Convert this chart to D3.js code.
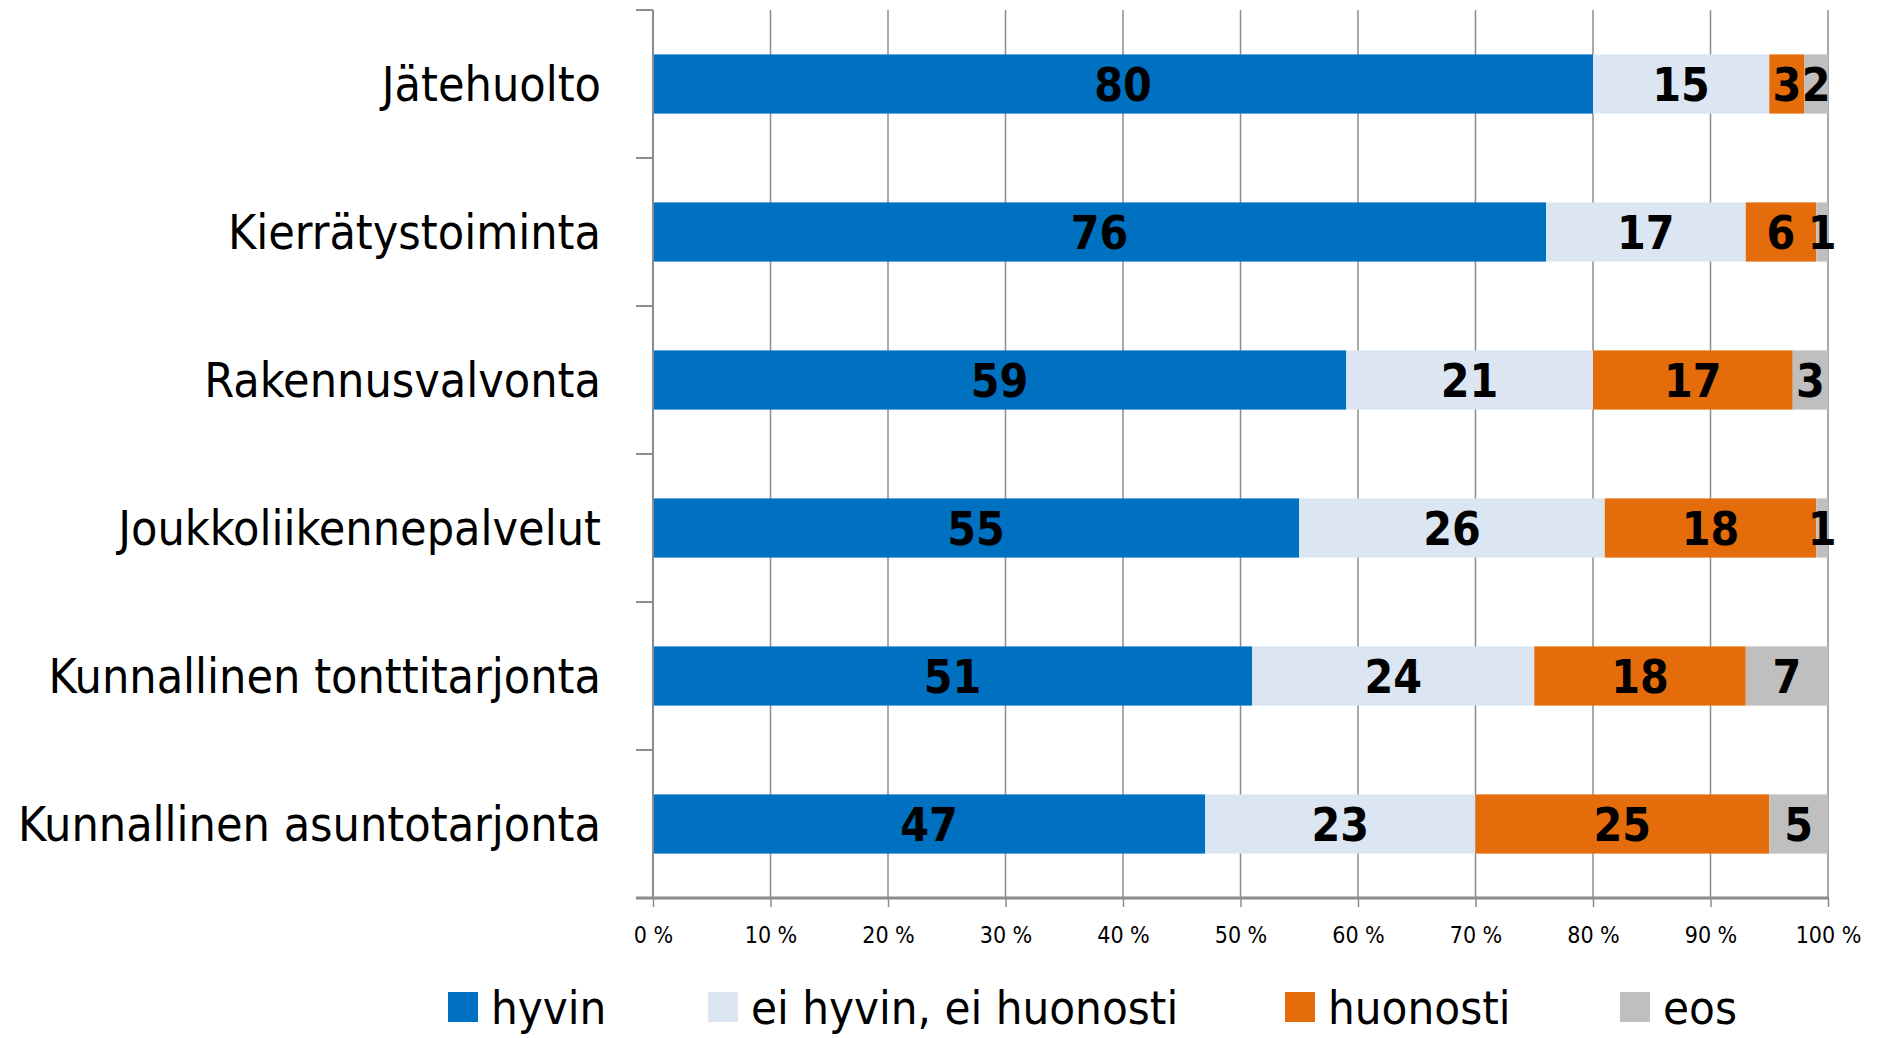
<!DOCTYPE html>
<html>
<head>
<meta charset="utf-8">
<script src="https://cdn.jsdelivr.net/npm/d3@7"></script>
<style>
  body { margin: 0; background: #fff; }
  svg text { font-family: "Liberation Sans Narrow", "DejaVu Sans Condensed", "Open Sans", sans-serif; }
</style>
</head>
<body>
<div id="chart"></div>
<script>
// categories, top to bottom
const categories = [
  "Jätehuolto",
  "Kierrätystoiminta",
  "Rakennusvalvonta",
  "Joukkoliikennepalvelut",
  "Kunnallinen tonttitarjonta",
  "Kunnallinen asuntotarjonta"
];
const seriesNames = ["hyvin", "ei hyvin, ei huonosti", "huonosti", "eos"];
const hyvin     = [80, 76, 59, 55, 51, 47];
const eiHyvin   = [15, 17, 21, 26, 24, 23];
const huonosti  = [3, 6, 17, 18, 18, 25];
const eos       = [2, 1, 3, 1, 7, 5];
const tickValues = [0, 10, 20, 30, 40, 50, 60, 70, 80, 90, 100];
const colors = ["#0070c0", "#dce6f2", "#e46c0a", "#bfbfbf"];

const W = 1879, H = 1038;
const plotLeft = 653, plotRight = 1828, plotTop = 10, plotBottom = 898;

const rows = categories.map((c, i) => ({
  cat: c, hyvin: hyvin[i], ei: eiHyvin[i], huonosti: huonosti[i], eos: eos[i]
}));
const keys = ["hyvin", "ei", "huonosti", "eos"];
const stacked = d3.stack().keys(keys)(rows);

const svg = d3.select("#chart").append("svg")
  .attr("width", W).attr("height", H);

const x = d3.scaleLinear().domain([0, 100]).range([plotLeft, plotRight]);
const y = d3.scaleBand().domain(categories).range([plotTop, plotBottom]).paddingInner(0.6).paddingOuter(0.3);

// gridlines
svg.append("g")
  .selectAll("line")
  .data(tickValues.slice(1))
  .enter().append("line")
  .attr("x1", d => x(d)).attr("x2", d => x(d))
  .attr("y1", plotTop).attr("y2", plotBottom)
  .attr("stroke", "#8c8c8c").attr("stroke-width", 1.5);

// bars
const layer = svg.append("g").selectAll("g")
  .data(stacked)
  .enter().append("g")
  .attr("fill", (d, i) => colors[i]);

layer.selectAll("rect")
  .data(d => d)
  .enter().append("rect")
  .attr("x", d => x(d[0]))
  .attr("width", d => x(d[1]) - x(d[0]))
  .attr("y", d => y(d.data.cat))
  .attr("height", y.bandwidth());

// value labels
layer.selectAll("text")
  .data(d => d)
  .enter().append("text")
  .attr("x", d => (x(d[0]) + x(d[1])) / 2)
  .attr("y", d => y(d.data.cat) + y.bandwidth() / 2)
  .attr("dy", "0.38em")
  .attr("text-anchor", "middle")
  .attr("fill", "#000")
  .style("font-size", "46px")
  .style("font-weight", "bold")
  .text(d => d[1] - d[0]);

// x axis
const xAxis = svg.append("g")
  .attr("transform", "translate(0," + plotBottom + ")")
  .call(d3.axisBottom(x).tickValues(tickValues).tickSize(9).tickPadding(20)
    .tickFormat(d => d + " %"));
xAxis.select(".domain").remove();
xAxis.selectAll(".tick line").attr("stroke", "#8c8c8c").attr("stroke-width", 1.5);
xAxis.selectAll(".tick text").style("font-size", "23px").attr("fill", "#000");
svg.append("line")
  .attr("x1", plotLeft - 17).attr("x2", plotRight + 1)
  .attr("y1", plotBottom).attr("y2", plotBottom)
  .attr("stroke", "#8c8c8c").attr("stroke-width", 3);

// y axis with category boundary ticks
const bounds = d3.range(categories.length + 1)
  .map(i => plotTop + i * (plotBottom - plotTop) / categories.length);
svg.append("line")
  .attr("x1", plotLeft).attr("x2", plotLeft)
  .attr("y1", plotTop).attr("y2", plotBottom)
  .attr("stroke", "#8c8c8c").attr("stroke-width", 2);
svg.append("g").selectAll("line")
  .data(bounds)
  .enter().append("line")
  .attr("x1", plotLeft - 17).attr("x2", plotLeft)
  .attr("y1", d => d).attr("y2", d => d)
  .attr("stroke", "#8c8c8c").attr("stroke-width", 2);

// category labels
svg.append("g").selectAll("text")
  .data(categories)
  .enter().append("text")
  .attr("x", plotLeft - 52)
  .attr("y", d => y(d) + y.bandwidth() / 2)
  .attr("dy", "0.36em")
  .attr("text-anchor", "end")
  .attr("fill", "#000")
  .style("font-size", "48px")
  .text(d => d);

// legend
const legendX = [448, 708, 1285, 1620];
const legend = svg.append("g").selectAll("g")
  .data(seriesNames)
  .enter().append("g")
  .attr("transform", (d, i) => "translate(" + legendX[i] + ",1007)");
legend.append("rect")
  .attr("x", 0).attr("y", -15).attr("width", 30).attr("height", 30)
  .attr("fill", (d, i) => colors[i]);
legend.append("text")
  .attr("x", 43).attr("y", 0).attr("dy", "0.36em")
  .attr("fill", "#000")
  .style("font-size", "47px")
  .text(d => d);
</script>
</body>
</html>
